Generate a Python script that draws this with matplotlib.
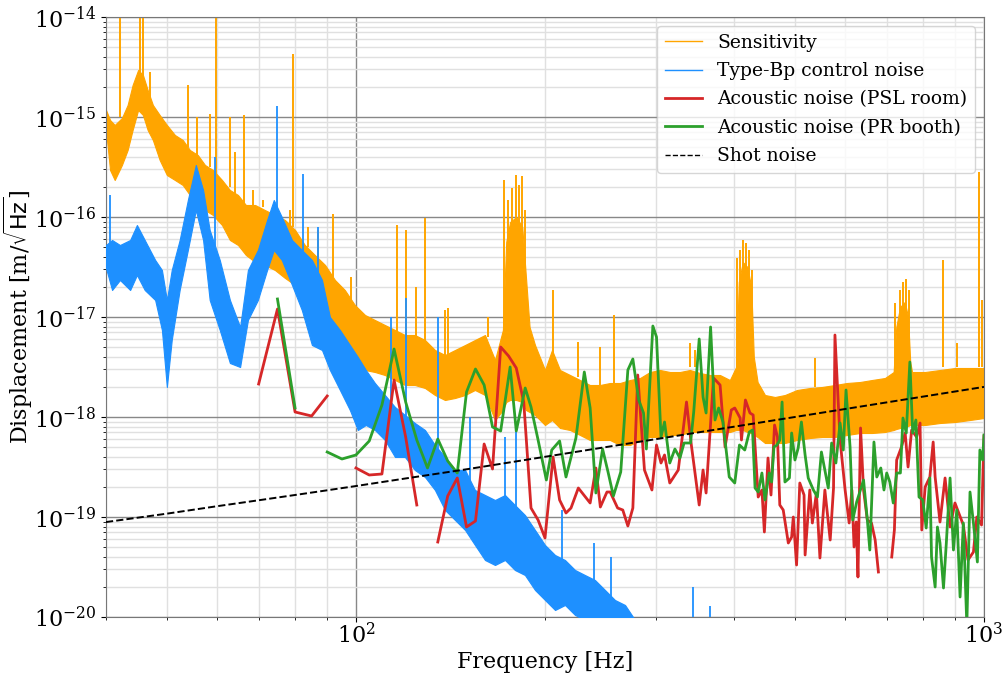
import numpy as np
import matplotlib.pyplot as plt
from matplotlib.lines import Line2D

plt.rcParams['font.family'] = 'DejaVu Serif'

nan = np.nan

# ---- Sensitivity (band envelope, log10 of m/rtHz) ----
sens_f = [40.0, 40.6, 41.3, 42.4, 43.3, 44.1, 45.0, 45.8, 46.6, 47.5, 48.7, 50.0, 51.5, 53.0,
          54.4, 56.0, 57.5, 59.2, 61.2, 63.0, 64.9, 66.8, 69.1, 71.6, 74.3, 77.1, 80.0, 82.9,
          86.0, 89.3, 92.6, 96.0, 99.6, 103.4, 107.2, 111.2, 115.4, 119.7, 124.1, 128.8, 133.6,
          138.6, 143.8, 149.2, 154.7, 160.5, 166.5, 171.4, 173.5, 176.0, 180.0, 184.0, 186.5,
          189.0, 192.8, 200.0, 205.2, 211.3, 219.2, 227.4, 235.8, 244.7, 253.8, 263.3, 273.2,
          283.4, 293.9, 304.9, 316.2, 328.0, 340.2, 353.0, 366.2, 379.8, 393.9, 403.0, 407.0,
          413.0, 420.0, 426.0, 430.0, 436.0, 448.0, 464.7, 482.0, 503.8, 528.4, 552.1, 579.1,
          605.1, 634.7, 663.3, 695.6, 718.0, 725.0, 735.0, 748.0, 757.0, 763.0, 768.2, 805.6,
          851.2, 899.4, 950.0, 1000.0]
sens_hi = [-14.93, -15.03, -15.08, -15.01, -14.88, -14.68, -14.53, -14.58, -14.73, -14.88, -14.98,
           -15.08, -15.18, -15.23, -15.33, -15.38, -15.48, -15.53, -15.63, -15.73, -15.78, -15.88,
           -15.88, -15.93, -15.98, -16.03, -16.13, -16.28, -16.38, -16.48, -16.63, -16.73, -16.88,
           -16.98, -17.03, -17.08, -17.13, -17.18, -17.18, -17.23, -17.33, -17.38, -17.33, -17.28,
           -17.23, -17.18, -17.43, -17.13, -16.25, -16.05, -16.00, -16.10, -16.60, -17.10, -17.28,
           -17.53, -17.33, -17.53, -17.58, -17.63, -17.68, -17.68, -17.66, -17.66, -17.63, -17.61,
           -17.55, -17.53, -17.55, -17.55, -17.53, -17.56, -17.58, -17.58, -17.63, -17.50, -16.65,
           -16.45, -16.50, -16.70, -17.40, -17.65, -17.78, -17.80, -17.78, -17.73, -17.71, -17.70,
           -17.68, -17.66, -17.65, -17.63, -17.61, -17.55, -17.10, -16.90, -16.85, -17.00, -17.45,
           -17.55, -17.55, -17.53, -17.51, -17.51, -17.51]
sens_lo = [-15.13, -15.53, -15.63, -15.48, -15.33, -15.13, -14.93, -14.98, -15.13, -15.23, -15.43,
           -15.58, -15.63, -15.68, -15.78, -15.88, -15.93, -15.98, -16.08, -16.23, -16.28, -16.38,
           -16.45, -16.48, -16.53, -16.61, -16.68, -16.83, -16.88, -16.98, -17.13, -17.38, -17.48,
           -17.53, -17.55, -17.58, -17.63, -17.68, -17.68, -17.71, -17.78, -17.83, -17.81, -17.78,
           -17.73, -17.78, -18.03, -17.93, -17.85, -17.83, -17.83, -17.85, -17.93, -17.95, -17.98,
           -18.08, -18.03, -18.11, -18.13, -18.18, -18.23, -18.23, -18.23, -18.28, -18.28, -18.23,
           -18.20, -18.20, -18.18, -18.18, -18.15, -18.15, -18.15, -18.15, -18.15, -18.13, -18.13,
           -18.13, -18.15, -18.16, -18.18, -18.20, -18.26, -18.26, -18.26, -18.23, -18.21, -18.20,
           -18.20, -18.18, -18.16, -18.16, -18.15, -18.13, -18.12, -18.11, -18.10, -18.09, -18.08,
           -18.08, -18.08, -18.06, -18.05, -18.03, -18.01]
sens_spike_f = [40.0, 42.1, 45.3, 45.8, 47.0, 54.0, 55.8, 58.5, 59.8, 63.0, 64.2, 66.3, 68.6, 71.1,
                78.5, 79.4, 83.9, 87.0, 91.9, 95.0, 98.2, 116.2, 120.1, 124.6, 128.8, 138.6, 140.1,
                162.3, 172.1, 174.6, 177.2, 179.8, 181.8, 183.8, 185.8, 205.9, 225.7, 244.7, 257.5,
                340.2, 346.6, 404.2, 408.7, 413.2, 417.8, 422.4, 427.1, 538.2, 721.6, 735.0, 743.1,
                751.4, 759.7, 860.7, 905.8, 981.8, 992.7]
sens_spike_top = [-13.9, -13.9, -13.9, -13.9, -14.55, -14.68, -15.00, -14.97, -13.9, -15.00, -15.35,
                  -14.98, -15.73, -15.83, -15.93, -14.37, -16.10, -16.13, -15.97, -16.76, -16.60,
                  -16.08, -16.13, -16.70, -16.01, -16.93, -16.91, -17.00, -15.63, -15.83, -15.71,
                  -15.58, -15.68, -15.59, -15.93, -16.73, -17.25, -17.30, -16.98, -17.26, -17.33,
                  -16.41, -16.33, -16.23, -16.26, -16.33, -16.53, -17.41, -16.86, -16.73, -16.65,
                  -16.62, -16.73, -16.43, -17.26, -15.55, -16.83]
sens_spike_base = [-15.0, -15.0, -14.6, -14.6, -14.9, -15.3, -15.4, -15.5, -15.6, -15.7, -15.8,
                   -15.9, -15.9, -15.9, -16.1, -16.1, -16.3, -16.4, -16.6, -16.8, -16.9, -17.2,
                   -17.2, -17.2, -17.3, -17.4, -17.4, -17.2, -17.2, -17.0, -16.9, -16.9, -16.9,
                   -17.0, -17.1, -17.4, -17.6, -17.7, -17.7, -17.5, -17.5, -17.5, -17.4, -17.3,
                   -17.3, -17.4, -17.5, -17.7, -17.6, -17.5, -17.4, -17.4, -17.5, -17.5, -17.5,
                   -17.5, -17.5]

# ---- Type-Bp control noise (band envelope) ----
bp_f = [40.0, 40.9, 42.1, 43.7, 44.8, 46.1, 47.9, 49.1, 50.0, 50.9, 52.4, 54.0, 55.6, 57.1, 58.5,
        60.7, 63.0, 65.4, 67.3, 69.8, 72.2, 74.0, 76.2, 79.1, 82.0, 85.1, 88.3, 90.9, 94.3, 97.8,
        100.7, 103.7, 107.2, 111.2, 115.4, 119.7, 124.1, 128.8, 133.6, 138.6, 143.8, 149.2, 154.7,
        160.5, 166.5, 172.7, 179.1, 185.8, 192.8, 200.0, 207.5, 215.2, 223.3, 231.5, 240.2, 249.2,
        258.5, 268.2, 278.2]
bp_hi = [-16.28, -16.23, -16.28, -16.23, -16.08, -16.23, -16.43, -16.53, -16.83, -16.53, -16.23,
         -15.83, -15.48, -15.73, -16.13, -16.43, -16.83, -17.10, -16.53, -16.33, -16.03, -15.83,
         -16.00, -16.23, -16.33, -16.43, -16.63, -17.00, -17.13, -17.28, -17.40, -17.53, -17.66,
         -17.78, -17.90, -17.98, -18.06, -18.13, -18.28, -18.40, -18.53, -18.53, -18.73, -18.78,
         -18.83, -18.78, -18.88, -18.98, -19.13, -19.28, -19.38, -19.43, -19.53, -19.58, -19.63,
         -19.73, -19.83, -19.88, -20.03]
bp_lo = [-16.51, -16.73, -16.63, -16.73, -16.58, -16.73, -16.83, -17.13, -17.70, -17.23, -16.73,
         -16.33, -15.93, -16.23, -16.83, -17.13, -17.46, -17.50, -17.03, -16.83, -16.53, -16.33,
         -16.43, -16.68, -16.93, -17.28, -17.33, -17.53, -17.73, -17.93, -18.13, -18.08, -18.13,
         -18.23, -18.40, -18.40, -18.53, -18.60, -18.73, -18.93, -19.03, -19.13, -19.28, -19.43,
         -19.48, -19.43, -19.53, -19.58, -19.73, -19.83, -19.93, -19.88, -19.98, -20.03, -20.13,
         -20.23, -20.33, -20.43, -20.63]
bp_spike_f = [40.6, 59.6, 74.8, 82.3, 87.0, 113.7, 120.1, 135.1, 151.9, 172.7, 179.8, 212.8, 239.3,
              254.7, 344.0, 366.2]
bp_spike_top = [-15.78, -15.40, -14.89, -15.57, -16.10, -17.00, -16.81, -17.00, -18.00, -18.20,
                -18.06, -18.93, -19.26, -19.40, -19.70, -19.89]
bp_spike_base = [-16.4, -16.3, -16.0, -16.5, -16.8, -17.9, -18.1, -18.4, -18.7, -18.9, -19.0,
                 -19.5, -19.7, -19.8, -20.5, -20.5]

# ---- Acoustic noise (PSL room) ----
psl_f = [70, 75, 80, 85, 90, 95, 100, 105, 110, 115, 120, 125, 130, 135, 140, 145, 150, 155, 160,
         165, 170, 175, 180, 185, 190, 195, 200, 206, 211, 216, 220, 226, 236, 241, 245, 251, 254,
         261, 266, 271, 276, 281, 288, 296, 301, 306, 310, 316, 326, 336, 342, 352, 357, 361, 371,
         380, 387, 396, 401, 409, 411, 417, 424, 429, 437, 443, 447, 453, 458, 464, 469, 473, 479,
         488, 494, 497, 503, 509, 517, 519, 528, 533, 541, 548, 558, 569, 576, 579, 590, 601, 610,
         616, 621, 626, 630, 636, 643, 652, 662, 671, 679, 690, 713, 720, 726, 739, 749, 757, 767,
         781, 791, 796, 806, 820, 830, 836, 851, 867, 883, 899, 927, 943, 962, 974, 991, 1000]
psl_v = [-17.67, -16.92, -17.95, -17.99, -17.79, nan, -18.51, -18.58, -18.57, -17.63, -18.20,
         -18.88, nan, -19.25, -18.79, -18.61, -19.10, -19.04, -18.27, -18.52, -17.30, -17.39,
         -17.51, -17.85, -18.91, -19.03, -19.21, -18.40, -18.83, -18.96, -18.91, -18.71, -18.86,
         -18.51, -18.90, -18.75, -18.75, -18.91, -18.93, -19.09, -18.91, -17.58, -18.53, -18.73,
         -18.28, -18.46, -18.38, -18.66, -18.53, -17.85, -18.28, -18.88, -18.53, -18.76, -17.61,
         -17.68, -18.30, -17.93, -17.91, -18.01, -18.23, -17.83, -17.96, -17.98, -18.80, -18.73,
         -19.15, -18.41, -18.78, -18.08, -18.20, -18.88, -18.93, -19.26, -19.20, -19.00, -19.48,
         -18.66, -18.78, -19.38, -18.73, -19.06, -18.76, -19.41, -18.73, -19.23, -18.71, -17.18,
         -18.23, -18.73, -19.06, -18.73, -19.30, -19.05, -19.60, -18.11, -18.73, -19.03, -19.06,
         -19.23, -19.55, nan, -19.40, -19.13, -18.43, -18.30, -18.16, -18.50, -18.13, -18.20,
         -18.06, -19.13, -18.70, -18.60, -18.25, -18.60, -19.05, -18.61, -19.10, -18.86, -19.08,
         -19.43, -19.35, -19.00, -19.08, -18.19]

# ---- Acoustic noise (PR booth) ----
pr_f = [75, 80, 85, 90, 95, 100, 105, 110, 115, 120, 125, 130, 135, 140, 145, 150, 155, 160, 165,
        170, 176, 180, 186, 190, 195, 201, 205, 211, 216, 224, 231, 236, 241, 247, 252, 257, 264,
        271, 276, 282, 287, 290, 297, 301, 306, 310, 316, 322, 328, 333, 341, 345, 352, 357, 361,
        367, 373, 378, 384, 393, 401, 408, 416, 423, 428, 432, 437, 443, 448, 455, 459, 463, 468,
        473, 477, 482, 490, 494, 500, 506, 512, 519, 525, 535, 543, 551, 558, 565, 572, 581, 590,
        597, 603, 612, 618, 627, 643, 652, 658, 668, 675, 685, 693, 700, 708, 717, 726, 736, 743,
        752, 762, 770, 779, 788, 799, 809, 820, 825, 836, 843, 851, 862, 871, 883, 894, 905, 916,
        927, 939, 950, 962, 976, 985, 995, 1000]
pr_v = [-16.82, -17.91, nan, -18.35, -18.42, -18.38, -18.24, -17.88, -17.32, -17.85, -18.23,
        -18.51, -18.22, -18.44, -18.56, -17.75, -17.52, -17.68, -18.10, -18.14, -17.50, -18.14,
        -17.71, -17.90, -18.23, -18.63, -18.33, -18.24, -18.60, -18.21, -17.55, -17.91, -18.76,
        -18.32, -18.55, -18.79, -18.55, -17.53, -17.42, -17.83, -17.96, -18.32, -17.09, -17.20,
        -18.20, -18.05, -18.46, -18.32, -18.41, -18.26, -18.26, -17.95, -17.22, -17.80, -17.96,
        -17.10, -18.03, -17.91, -18.05, -18.60, -18.66, -18.28, -18.33, -18.15, -18.13, -18.71,
        -18.75, -18.56, -18.83, -18.56, -18.65, -18.30, -18.28, -18.23, -17.85, -18.65, -18.61,
        -18.16, -18.43, -18.31, -18.05, -18.38, -18.61, -18.73, -18.80, -18.35, -18.53, -18.71,
        -18.26, -18.46, -18.06, -18.33, -17.73, -18.30, -19.03, -18.85, -18.63, -19.03, -19.33,
        -18.25, -18.60, -18.51, -18.73, -18.56, -18.65, -18.86, -18.56, -18.56, -18.01, -18.16,
        -17.45, -18.16, -18.03, -18.80, -18.83, -19.11, -18.61, -19.40, -19.70, -19.10, -19.26,
        -19.71, -19.26, -18.61, -19.33, -18.93, -19.80, -19.06, -20.08, -18.75, -19.06, -19.45,
        -18.33, -18.43, -18.18]

# ---- Shot noise ----
shot_f = [40, 50, 60, 70, 80, 90, 100, 120, 150, 200, 300, 400, 500, 700, 1000]
shot_v = [8.9e-20, 1.08e-19, 1.28e-19, 1.47e-19, 1.66e-19, 1.85e-19, 2.04e-19, 2.43e-19,
          3.0e-19, 4.0e-19, 6.0e-19, 8.0e-19, 1.0e-18, 1.4e-18, 2.0e-18]


def p(v):
    return 10.0 ** np.array(v, dtype=float)


fig = plt.figure(figsize=(10.06, 6.73), dpi=100)
ax = fig.add_axes([106 / 1006, 56 / 673, 878 / 1006, 600 / 673])

ax.fill_between(sens_f, p(sens_lo), p(sens_hi), color='orange', lw=0.8, zorder=2)
ax.vlines(sens_spike_f, p(sens_spike_base), p(sens_spike_top), color='orange', lw=1.4, zorder=2)

ax.fill_between(bp_f, p(bp_lo), p(bp_hi), color='dodgerblue', lw=0.8, zorder=3)
ax.vlines(bp_spike_f, p(bp_spike_base), p(bp_spike_top), color='dodgerblue', lw=1.3, zorder=3)

ax.plot(psl_f, p(psl_v), color='tab:red', lw=2, zorder=4)
ax.plot(pr_f, p(pr_v), color='tab:green', lw=2, zorder=5)
ax.plot(shot_f, shot_v, color='k', ls='--', lw=1.4, zorder=6)

ax.set_xscale('log')
ax.set_yscale('log')
ax.set_xlim(40, 1000)
ax.set_ylim(1e-20, 1e-14)

ax.set_axisbelow(True)
ax.grid(which='major', color='#888888', lw=1)
ax.grid(which='minor', color='#e0e0e0', lw=1)
for s in ax.spines.values():
    s.set_color('#777777')

ax.tick_params(labelsize=16)
ax.tick_params(axis='x', pad=0.5)
ax.set_xlabel('Frequency [Hz]', fontsize=16, labelpad=2)
ax.set_ylabel(r'Displacement [m/$\sqrt{\rm Hz}$]', fontsize=16, labelpad=-1)

handles = [
    Line2D([], [], color='orange', lw=1),
    Line2D([], [], color='dodgerblue', lw=1),
    Line2D([], [], color='tab:red', lw=2),
    Line2D([], [], color='tab:green', lw=2),
    Line2D([], [], color='k', ls='--', lw=1),
]
labels = ['Sensitivity', 'Type-Bp control noise', 'Acoustic noise (PSL room)',
          'Acoustic noise (PR booth)', 'Shot noise']
ax.legend(handles, labels, loc='upper right', fontsize=13.5, labelspacing=0.55)

fig.savefig('out.png', dpi=100)
